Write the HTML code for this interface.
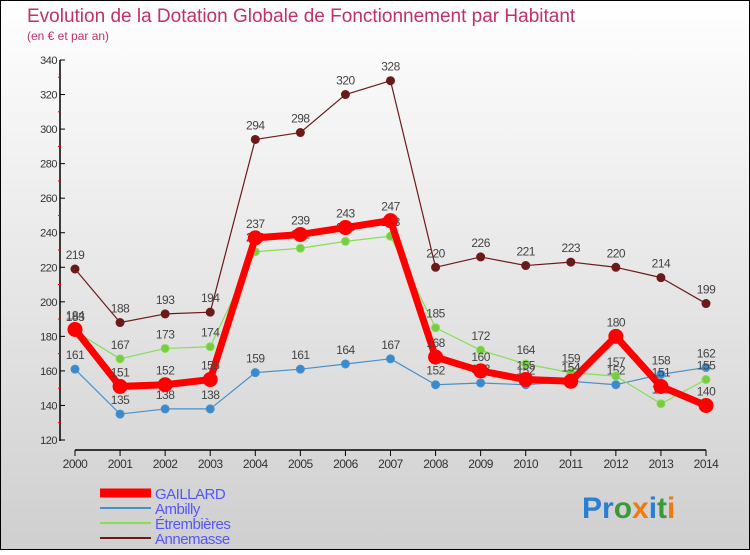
<!DOCTYPE html>
<html><head><meta charset="utf-8"><style>
body{margin:0;width:750px;height:550px;overflow:hidden;font-family:"Liberation Sans",sans-serif}
</style></head><body>
<svg width="750" height="550" xmlns="http://www.w3.org/2000/svg">
<defs><linearGradient id="bg" x1="0" y1="0" x2="0" y2="1"><stop offset="0" stop-color="#ffffff"/><stop offset="1" stop-color="#cfcfcf"/></linearGradient></defs>
<rect x="0.5" y="0.5" width="749" height="549" fill="url(#bg)" stroke="#000"/>
<text x="27" y="22" font-size="19" fill="#c0306a">Evolution de la Dotation Globale de Fonctionnement par Habitant</text>
<text x="27" y="40" font-size="12" fill="#c0306a">(en € et par an)</text>
<g id="axes"></g><g id="series"></g><g id="legend"></g>
<text x="582" y="518" font-size="30" font-weight="bold"><tspan fill="#2a7fd4">Pr</tspan><tspan fill="#3a9a3a">o</tspan><tspan fill="#f07a10">x</tspan><tspan fill="#2a7fd4">i</tspan><tspan fill="#3a9a3a">t</tspan><tspan fill="#f07a10">i</tspan></text>
</svg>
<script>
const years=[2000,2001,2002,2003,2004,2005,2006,2007,2008,2009,2010,2011,2012,2013,2014];
const gaillard=[184,151,152,155,237,239,243,247,168,160,155,154,180,151,140];
const ambilly=[161,135,138,138,159,161,164,167,152,153,152,154,152,158,162];
const etrembieres=[183,167,173,174,229,231,235,238,185,172,164,159,157,141,155];
const annemasse=[219,188,193,194,294,298,320,328,220,226,221,223,220,214,199];
const yTicks=[120,140,160,180,200,220,240,260,280,300,320,340];
const NS="http://www.w3.org/2000/svg";
const X=i=>75+i*(631/14);
const Y=v=>440-(v-120)*(380/220);
function el(t,a,p){const e=document.createElementNS(NS,t);for(const k in a)e.setAttribute(k,a[k]);p.appendChild(e);return e;}
const ax=document.getElementById('axes');
let l=el('line',{x1:60,y1:60,x2:60,y2:441,stroke:'#000','stroke-width':1.5},ax);


l=el('line',{x1:75,y1:450,x2:706,y2:450,stroke:'#000','stroke-width':1.5},ax);


yTicks.forEach((v,i)=>{
  el('line',{x1:60,y1:Y(v),x2:65,y2:Y(v),stroke:'#000'},ax);
  if(i<yTicks.length-1)el('line',{x1:58,y1:Y(v+10),x2:61,y2:Y(v+10),stroke:'#e00'},ax);
  const t=el('text',{x:57,y:Y(v)+4,'font-size':11,fill:'#333','text-anchor':'end','letter-spacing':'-0.5'},ax);
  t.textContent=v;
  
  
});
years.forEach((y,i)=>{
  el('line',{x1:X(i),y1:450,x2:X(i),y2:456,stroke:'#000'},ax);
  const t=el('text',{x:X(i),y:468,'font-size':12,fill:'#333','text-anchor':'middle','letter-spacing':'-0.5'},ax);
  t.textContent=y;
  
  
});
const sg=document.getElementById('series');
function draw(data,color,w,r,name,dot){
  const g=el('g',{},sg);
  
  
  el('polyline',{points:data.map((v,i)=>X(i)+','+Y(v)).join(' '),fill:'none',stroke:color,'stroke-width':w,'stroke-linejoin':'round'},g);
  data.forEach((v,i)=>{
    const c=el('circle',{cx:X(i),cy:Y(v),r:r,fill:dot,stroke:color,'stroke-width':1},g);
    
    
    const t=el('text',{x:X(i),y:Y(v)-10,'font-size':12,fill:'#444','text-anchor':'middle','letter-spacing':'-0.5'},g);
    t.textContent=v;
    
    
  });
}
draw(annemasse,'#6b1a1a',1.2,4,'annemasse','#6b1a1a');
draw(ambilly,'#4a90c8',1.2,4,'ambilly','#3a8ad0');
draw(etrembieres,'#88dd55',1.2,4,'etrembieres','#77cc44');
draw(gaillard,'#ff0000',7,7,'gaillard','#ff0000');
const lg=document.getElementById('legend');
[['GAILLARD','#ff0000',9],['Ambilly','#4a90c8',2],['Étrembières','#88dd55',2],['Annemasse','#6b1a1a',2]].forEach((d,i)=>{
  const y=493+i*15;
  const g=el('g',{},lg);
  
  
  el('line',{x1:100,y1:y,x2:151,y2:y,stroke:d[1],'stroke-width':d[2]},g);
  const t=el('text',{x:155,y:y+6,'font-size':15,fill:'#5555ff','letter-spacing':'-0.5'},g);
  t.textContent=d[0];
});
</script>
</body></html>
